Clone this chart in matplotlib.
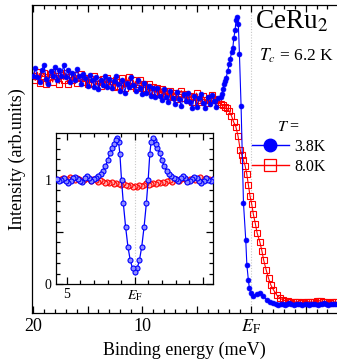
import numpy as np
import matplotlib
matplotlib.use("Agg")
import matplotlib.pyplot as plt
from matplotlib.ticker import MultipleLocator, FixedLocator, FixedFormatter
from matplotlib.lines import Line2D

plt.rcParams['font.family'] = ['Liberation Serif', 'DejaVu Serif']
plt.rcParams['mathtext.fontset'] = 'stix'

# ---------------- data ----------------
# main panel, 3.8 K (blue)
blue_flat_E = np.round(np.arange(20.0, 2.95, -0.2), 2)
blue_flat_I = [0.770, 0.795, 0.765, 0.750, 0.790, 0.805, 0.760, 0.745, 0.785, 0.770,
               0.800, 0.755, 0.790, 0.770, 0.805, 0.765, 0.790, 0.750, 0.778, 0.758,
               0.792, 0.768, 0.745, 0.775, 0.762, 0.738, 0.772, 0.758, 0.735, 0.765,
               0.728, 0.758, 0.740, 0.768, 0.735, 0.760, 0.730, 0.752, 0.770, 0.742,
               0.722, 0.755, 0.715, 0.748, 0.735, 0.765, 0.740, 0.722, 0.755, 0.732,
               0.712, 0.748, 0.715, 0.738, 0.705, 0.732, 0.702, 0.730, 0.705, 0.692,
               0.728, 0.700, 0.685, 0.720, 0.698, 0.678, 0.718, 0.695, 0.672, 0.710,
               0.688, 0.715, 0.685, 0.665, 0.705, 0.668, 0.698, 0.710, 0.682, 0.665,
               0.700, 0.678, 0.708, 0.688, 0.670, 0.698]
blue_peak_E = [2.80, 2.69, 2.58, 2.48, 2.39, 2.29, 2.15, 2.02, 1.93, 1.77, 1.68, 1.59,
               1.47, 1.38, 1.26, 1.17, 1.07, 0.92, 0.70, 0.49, 0.39, 0.25, 0.16, 0.03,
               -0.21, -0.52, -0.83, -1.13, -1.44, -1.74, -2.05]
blue_peak_I = [0.700, 0.710, 0.728, 0.743, 0.753, 0.764, 0.785, 0.807, 0.824, 0.848,
               0.859, 0.892, 0.919, 0.951, 0.960, 0.938, 0.841, 0.672, 0.357, 0.237,
               0.156, 0.107, 0.080, 0.064, 0.055, 0.062, 0.064, 0.055, 0.042, 0.035,
               0.031]
blue_tail_E = np.round(np.arange(-2.3, -7.95, -0.2), 2)
blue_tail_I = [0.029, 0.027, 0.030, 0.028, 0.026, 0.029, 0.031, 0.028, 0.027, 0.029,
               0.028, 0.030, 0.027, 0.028, 0.029, 0.026, 0.028, 0.030, 0.029, 0.027,
               0.028, 0.029, 0.031, 0.028, 0.027, 0.029, 0.028, 0.030, 0.028]

# main panel, 8.0 K (red)
red_flat_E = np.round(np.arange(20.0, 3.35, -0.2), 2)
red_flat_I = [0.770, 0.755, 0.782, 0.748, 0.768, 0.778, 0.742, 0.765, 0.775, 0.750,
              0.782, 0.768, 0.745, 0.772, 0.758, 0.778, 0.745, 0.765, 0.755, 0.772,
              0.748, 0.762, 0.775, 0.750, 0.762, 0.742, 0.760, 0.748, 0.768, 0.742,
              0.755, 0.738, 0.760, 0.745, 0.762, 0.740, 0.752, 0.735, 0.758, 0.738,
              0.750, 0.762, 0.732, 0.748, 0.765, 0.738, 0.755, 0.732, 0.745, 0.758,
              0.730, 0.745, 0.725, 0.742, 0.720, 0.735, 0.716, 0.732, 0.712, 0.728,
              0.706, 0.722, 0.704, 0.720, 0.700, 0.715, 0.694, 0.712, 0.722, 0.698,
              0.710, 0.690, 0.706, 0.686, 0.700, 0.714, 0.692, 0.684, 0.704, 0.690,
              0.682, 0.698, 0.708, 0.694]
red_edge_E = [3.2, 3.0, 2.8, 2.6, 2.4, 2.2, 2.0, 1.8, 1.6, 1.4, 1.2, 1.0, 0.85, 0.7,
              0.55, 0.4, 0.25, 0.1, -0.05, -0.2, -0.4, -0.55, -0.8, -1.0, -1.15, -1.38,
              -1.6, -1.81, -2.05, -2.36, -2.66, -2.9, -3.12, -3.4, -3.6]
red_edge_I = [0.690, 0.685, 0.680, 0.675, 0.670, 0.665, 0.655, 0.640, 0.620, 0.605,
              0.575, 0.530, 0.513, 0.497, 0.478, 0.452, 0.415, 0.380, 0.355, 0.322,
              0.288, 0.260, 0.231, 0.200, 0.172, 0.140, 0.113, 0.091, 0.075, 0.058,
              0.048, 0.043, 0.040, 0.038, 0.037]
red_tail_E = np.round(np.arange(-3.8, -7.95, -0.2), 2)
red_tail_I = [0.036, 0.035, 0.037, 0.036, 0.034, 0.036, 0.035, 0.037, 0.036, 0.035,
              0.036, 0.038, 0.040, 0.039, 0.037, 0.035, 0.036, 0.034, 0.035, 0.036,
              0.035]

# inset: symmetrized ratio, E >= 0 half
ins_blue_E = [0.00, 0.17, 0.34, 0.51, 0.68, 0.85, 0.98, 1.10, 1.20, 1.30, 1.40, 1.52,
              1.66, 1.82, 2.00, 2.17, 2.34, 2.51, 2.68, 2.85, 3.02, 3.19, 3.36, 3.53,
              3.70, 3.87, 4.04, 4.21, 4.38, 4.55, 4.72, 4.89, 5.06, 5.23, 5.40, 5.57,
              5.74]
ins_blue_R = [0.12, 0.15, 0.23, 0.36, 0.55, 0.78, 1.00, 1.25, 1.37, 1.40, 1.38, 1.35,
              1.31, 1.26, 1.19, 1.13, 1.09, 1.06, 1.04, 1.02, 1.01, 0.99, 1.02, 1.04,
              1.02, 0.98, 0.99, 1.01, 1.03, 1.02, 0.99, 0.97, 0.99, 1.02, 1.00, 0.99,
              1.01]
ins_red_E = [0.00, 0.17, 0.34, 0.51, 0.68, 0.85, 1.02, 1.19, 1.36, 1.53, 1.70, 1.87,
             2.04, 2.21, 2.38, 2.55, 2.72, 2.89, 3.06, 3.23, 3.40, 3.57, 3.74, 3.91,
             4.08, 4.25, 4.42, 4.59, 4.76, 4.93, 5.10, 5.27, 5.44, 5.61, 5.78]
ins_red_R = [0.94, 0.935, 0.95, 0.94, 0.955, 0.97, 0.95, 0.96, 0.975, 0.965, 0.98, 0.97,
             0.985, 0.975, 0.99, 1.00, 0.985, 1.00, 1.01, 0.99, 1.005, 1.02, 1.00, 0.99,
             1.01, 1.02, 1.00, 1.01, 1.03, 1.01, 1.00, 1.02, 1.01, 1.00, 1.01]

main_ticks = [20, 15, 10, 5, 0, -5]
main_ticklabels = ["20", "", "10", "", r"$E_\mathrm{F}$", ""]
ins_xticks = [5, 0, -5]
ins_xticklabels = ["5", r"$E_\mathrm{F}$", ""]
ins_yticks = [0, 0.5, 1]
ins_yticklabels = ["0", "", "1"]

BLUE = "#0000ff"
RED = "#ff0000"

# ---------------- figure ----------------
fig = plt.figure(figsize=(3.37, 3.62), dpi=100)
ax = fig.add_axes([32/337, 1-313/362, 305/337, 308/362])

bE = np.concatenate([blue_flat_E, blue_peak_E, blue_tail_E])
bI = np.concatenate([blue_flat_I, blue_peak_I, blue_tail_I])
rE = np.concatenate([red_flat_E, red_edge_E, red_tail_E])
rI = np.concatenate([red_flat_I, red_edge_I, red_tail_I])

ax.axvline(0, color="#c8c8c8", lw=0.8, ls=(0, (1, 1.5)), zorder=0)
ax.plot(rE, rI, color=RED, lw=0.8, marker="s", ms=4.0, mfc="none", mec=RED, mew=0.8, zorder=2)
ax.plot(bE, bI, color=BLUE, lw=0.8, marker="o", ms=3.5, mfc=BLUE, mec=BLUE, mew=0.5, zorder=3)

ax.set_xlim(20.1, -7.88)
ax.set_ylim(0, 1)
ax.xaxis.set_major_locator(FixedLocator(main_ticks))
ax.xaxis.set_major_formatter(FixedFormatter(main_ticklabels))
ax.xaxis.set_minor_locator(MultipleLocator(1))
ax.set_yticks([])
ax.tick_params(axis="x", which="both", direction="in", top=True, bottom=True, width=0.9)
ax.tick_params(axis="x", which="major", length=5, labelsize=13, pad=3.5)
ax.tick_params(axis="x", which="minor", length=3)
ax.spines["right"].set_visible(False)
for s in ["left", "top", "bottom"]:
    ax.spines[s].set_linewidth(0.9)
ax.set_xlabel("Binding energy (meV)", fontsize=13, labelpad=4)
ax.set_ylabel("Intensity (arb.units)", fontsize=13, labelpad=4)

ax.text(0.73, 0.945, r"CeRu$_2$", transform=ax.transAxes, fontsize=19.5, ha="left", va="center")
ax.text(0.745, 0.835, r"$T_c$ = 6.2 K", transform=ax.transAxes, fontsize=12.5, ha="left", va="center")

handles = [Line2D([], [], color=BLUE, lw=1.0, marker="o", ms=9, mfc=BLUE, mec=BLUE),
           Line2D([], [], color=RED, lw=1.0, marker="s", ms=8, mfc="none", mec=RED, mew=0.9)]
leg = ax.legend(handles, ["3.8K", "8.0K"], title=r"$T$ =", loc="upper left",
                bbox_to_anchor=(252/337, 1-119/362), bbox_transform=fig.transFigure,
                frameon=False, fontsize=11.5, title_fontsize=11.5, handlelength=2.3,
                handletextpad=0.35, labelspacing=0.25, borderpad=0, borderaxespad=0)

# inset
ins = fig.add_axes([56/337, 1-284/362, 157/337, 151/362])
ins.axvline(0, color="#c8c8c8", lw=0.8, ls=(0, (1, 1.5)), zorder=0)
iE_b = np.concatenate([-np.array(ins_blue_E[::-1]), np.array(ins_blue_E[1:])])
iR_b = np.concatenate([np.array(ins_blue_R[::-1]), np.array(ins_blue_R[1:])])
iE_r = np.concatenate([-np.array(ins_red_E[::-1]), np.array(ins_red_E[1:])])
iR_r = np.concatenate([np.array(ins_red_R[::-1]), np.array(ins_red_R[1:])])
ins.plot(iE_r, iR_r, color=RED, lw=0.8, marker="o", ms=3.6, mfc="#ffb0b0", mec=RED, mew=0.8, zorder=2)
ins.plot(iE_b, iR_b, color=BLUE, lw=0.9, marker="o", ms=3.6, mfc="#8c8cff", mec=BLUE, mew=0.8, zorder=3)
ins.set_xlim(5.8, -5.75)
ins.set_ylim(0, 1.452)
ins.xaxis.set_major_locator(FixedLocator(ins_xticks))
ins.xaxis.set_major_formatter(FixedFormatter(ins_xticklabels))
ins.xaxis.set_minor_locator(MultipleLocator(1))
ins.yaxis.set_major_locator(FixedLocator(ins_yticks))
ins.yaxis.set_major_formatter(FixedFormatter(ins_yticklabels))
ins.yaxis.set_minor_locator(MultipleLocator(0.1))
ins.tick_params(which="both", direction="in", top=True, right=True, width=0.9, labelsize=10)
ins.tick_params(which="major", length=5, pad=3)
ins.tick_params(which="minor", length=3)
for s in ins.spines.values():
    s.set_linewidth(0.9)

fig.savefig("out.png", dpi=100)
